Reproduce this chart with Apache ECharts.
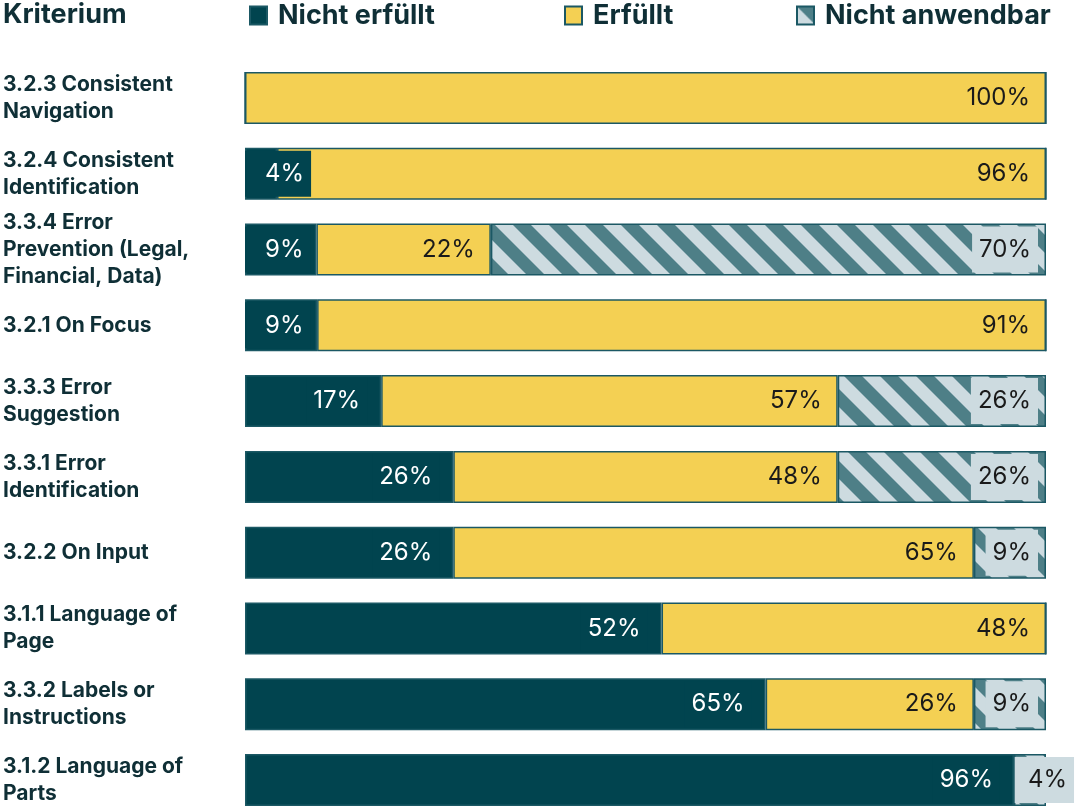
<!DOCTYPE html>
<html>
<head>
<meta charset="utf-8">
<script src="https://cdn.jsdelivr.net/npm/echarts@6/dist/echarts.min.js"></script>
<style>html,body{margin:0;padding:0;background:#fff;overflow:hidden}#c{width:1080px;height:810px}</style>
</head>
<body>
<div id="c"></div>
<script>
const categories = [
  "3.2.3 Consistent\nNavigation",
  "3.2.4 Consistent\nIdentification",
  "3.3.4 Error\nPrevention (Legal,\nFinancial, Data)",
  "3.2.1 On Focus",
  "3.3.3 Error\nSuggestion",
  "3.3.1 Error\nIdentification",
  "3.2.2 On Input",
  "3.1.1 Language of\nPage",
  "3.3.2 Labels or\nInstructions",
  "3.1.2 Language of\nParts"
];
const seriesNames = ["Nicht erfüllt", "Erfüllt", "Nicht anwendbar"];
const nichtErfuellt  = [0, 4, 9, 9, 17, 26, 26, 52, 65, 96];
const erfuellt       = [100, 96, 22, 91, 57, 48, 65, 48, 26, 0];
const nichtAnwendbar = [0, 0, 70, 0, 26, 26, 9, 0, 9, 4];

const DARK = '#01444f', YELLOW = '#f4d053', LIGHT = '#cddbe0', HATCH = '#4e7f87', BORDER = '#1b5864';
const FONT = 'Inter, "Noto Sans", sans-serif';
const TEXT = '#0f2f36';

// hatch pattern
const P = 36;
const cv = document.createElement('canvas');
cv.width = P; cv.height = P;
const g = cv.getContext('2d');
g.fillStyle = LIGHT; g.fillRect(0, 0, P, P);
g.fillStyle = HATCH;
for (let k = -2 * P; k <= P; k += P) {
  g.beginPath();
  g.moveTo(k, 0); g.lineTo(k + P / 2, 0); g.lineTo(k + P / 2 + P, P); g.lineTo(k + P, P);
  g.closePath(); g.fill();
}
const hatchFill = { image: cv, repeat: 'repeat' };

const raw = [nichtErfuellt, erfuellt, nichtAnwendbar];
const totals = categories.map((_, i) => raw[0][i] + raw[1][i] + raw[2][i]);

function mkData(si) {
  return raw[si].map((v, i) => {
    const item = { value: v * 100 / totals[i], pct: v };
    if (v === 0) item.label = { show: false };
    else if (si === 0 && v < 10) item.label = { position: 'insideLeft', distance: 0, padding: [8, 7, 8, 20] };
    else if (si === 2 && v < 5) item.label = { position: 'insideLeft', distance: 0, padding: [8, 7, 8, 14] };
    return item;
  });
}

const labelBase = {
  show: true, position: 'insideRight', fontFamily: FONT, fontSize: 24, lineHeight: 30,
  formatter: p => p.data.pct + '%'
};

const option = {
  animation: false,
  title: { text: 'Kriterium', left: -2, top: -4, textStyle: { fontFamily: FONT, fontWeight: 'bold', fontSize: 27, color: TEXT } },
  legend: [0, 1, 2].map((i) => ({
    data: [{ name: seriesNames[i], icon: 'rect' }], left: [244, 559, 791][i], top: -3, itemWidth: 17, itemHeight: 18,
    selectedMode: false,
    textStyle: { fontFamily: FONT, fontWeight: 'bold', fontSize: 27, color: TEXT, padding: [0, 0, 0, 6] }
  })),
  grid: { left: 245, top: 98, width: 801, bottom: 30, containLabel: false },
  xAxis: { type: 'value', min: 0, max: 100, show: false },
  yAxis: {
    type: 'category', data: categories, inverse: true, boundaryGap: false,
    axisLine: { show: false }, axisTick: { show: false }, splitLine: { show: false },
    axisLabel: { align: 'left', margin: 242, fontFamily: FONT, fontWeight: 'bold', fontSize: 21, lineHeight: 27, color: TEXT }
  },
  series: [
    {
      name: seriesNames[0], type: 'bar', stack: 't', barWidth: 52, z: 4,
      itemStyle: { color: DARK, borderColor: BORDER, borderWidth: 1.5 },
      label: Object.assign({}, labelBase, { color: '#ffffff', backgroundColor: DARK, padding: [8, 7], distance: 14 }),
      data: mkData(0)
    },
    {
      name: seriesNames[1], type: 'bar', stack: 't', barWidth: 52, z: 3,
      itemStyle: { color: YELLOW, borderColor: BORDER, borderWidth: 1.5 },
      label: Object.assign({}, labelBase, { color: '#1a1a1a', padding: [8, 7], distance: 9 }),
      data: mkData(1)
    },
    {
      name: seriesNames[2], type: 'bar', stack: 't', barWidth: 52, z: 2,
      itemStyle: { color: hatchFill, borderColor: BORDER, borderWidth: 1.5 },
      label: Object.assign({}, labelBase, { color: '#1a1a1a', backgroundColor: LIGHT, padding: [8, 7], distance: 8 }),
      data: mkData(2)
    }
  ]
};
echarts.init(document.getElementById('c'), null, { renderer: 'canvas' }).setOption(option);
</script>
</body>
</html>
